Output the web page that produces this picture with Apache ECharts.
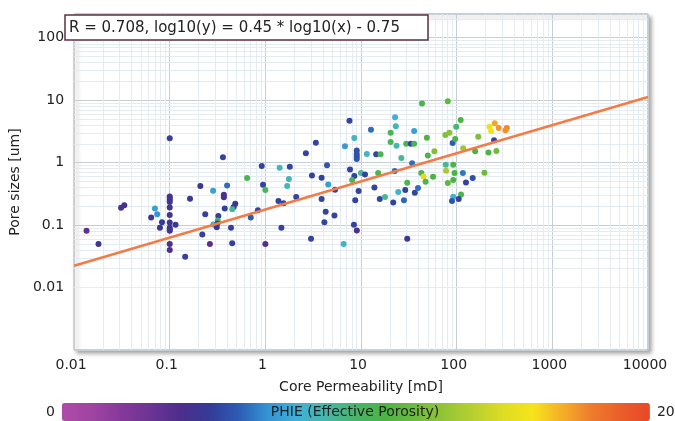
<!DOCTYPE html>
<html><head><meta charset="utf-8">
<script src="https://cdn.jsdelivr.net/npm/echarts@6/dist/echarts.min.js"></script>
<style>html,body{margin:0;padding:0;background:#fff}#c{width:675px;height:421px}</style>
</head><body><div id="c"></div>
<script>
// Core permeability [mD]
const permeability = [
  0.0135, 0.018, 0.031, 0.0335, 0.070, 0.074, 0.064, 0.083, 0.079,
  0.1, 0.1, 0.1, 0.1, 0.1, 0.1, 0.1, 0.1, 0.1, 0.1, 0.1, 0.1, 0.1,
  0.115, 0.163, 0.145, 0.36, 0.209, 0.284, 0.398, 0.368, 0.368, 0.484, 0.466, 0.451, 0.376,
  0.235, 0.322, 0.318, 0.286, 0.315, 0.31, 0.219, 0.437, 0.263, 0.45, 1.0,
  0.644, 0.916, 0.945, 1.0, 1.41, 1.80, 1.76, 1.69, 1.37, 1.55, 2.10, 0.835, 0.703, 1.47, 2.65,
  7.57, 22.7, 23.1, 12.7, 35.9, 20.4, 8.51, 20.4, 29.7, 33.2, 35.9, 3.37, 6.79, 23.5,
  9.02, 9.02, 9.02, 9.02, 11.5, 14.4, 16.0, 26.4, 34.2, 4.41, 3.07, 7.67, 3.87, 8.51, 9.98,
  11.0, 8.07, 15.1, 22.5, 4.54, 5.35, 13.8, 30.4, 9.42, 3.87, 8.7, 15.7, 17.8, 21.7, 24.5,
  29.0, 28.1, 36.5, 4.27, 5.27, 4.14, 8.43, 9.04, 3.0, 30.4, 6.58,
  43.4, 80.7, 110, 98.9, 76.2, 83.7, 90.7, 96.6, 48.8, 168, 220, 229, 250, 275, 334, 324, 246,
  49.9, 58.5, 117, 156, 215, 260, 76.9, 92, 77.4, 95, 116, 147, 125, 195, 92, 80.7,
  42.7, 45.1, 56.6, 47.3, 39.4, 111, 92, 89.3, 105
];
// Pore sizes [um]
const poreSize = [
  0.081, 0.050, 0.19, 0.207, 0.184, 0.149, 0.132, 0.111, 0.091,
  2.46, 0.288, 0.272, 0.252, 0.234, 0.192, 0.145, 0.110, 0.091, 0.085, 0.081, 0.050, 0.040,
  0.101, 0.265, 0.031, 1.22, 0.423, 0.356, 0.431, 0.307, 0.278, 0.22, 0.195, 0.18, 0.184,
  0.149, 0.140, 0.119, 0.102, 0.106, 0.092, 0.0706, 0.091, 0.050, 0.051, 0.050,
  0.566, 0.88, 0.443, 0.365, 0.826, 0.857, 0.545, 0.423, 0.243, 0.223, 0.282, 0.173, 0.132, 0.091, 1.42,
  4.69, 5.31, 3.82, 3.37, 3.21, 3.02, 2.48, 2.14, 2.01, 2.01, 2.01, 2.09, 1.83, 1.87,
  1.56, 1.38, 1.25, 1.14, 1.38, 1.36, 1.36, 1.19, 0.98, 0.91, 0.622, 0.776, 0.573, 0.61, 0.681,
  0.646, 0.526, 0.681, 0.733, 0.448, 0.369, 0.401, 0.476, 0.351, 0.262, 0.249, 0.262, 0.282, 0.231, 0.339,
  0.365, 0.249, 0.33, 0.163, 0.142, 0.111, 0.101, 0.0818, 0.0604, 0.0604, 0.050,
  8.87, 9.66, 4.81, 3.76, 2.77, 3.02, 2.07, 2.4, 2.51, 2.61, 3.76, 3.21, 4.26, 3.59, 3.59, 3.3, 2.29,
  1.30, 1.52, 1.70, 1.52, 1.45, 1.54, 0.923, 0.923, 0.739, 0.681, 0.681, 0.566, 0.482, 0.688, 0.526, 0.471,
  0.681, 0.601, 0.594, 0.494, 0.393, 0.31, 0.285, 0.243, 0.262
];
// PHIE (Effective Porosity)
const phie = [
  3.5, 4.6, 4.3, 4.3, 7.4, 7.0, 4.6, 5.0, 5.0,
  5.2, 4.5, 4.5, 4.5, 4.6, 4.5, 4.6, 4.5, 4.5, 4.6, 4.5, 4.0, 4.1,
  5.0, 5.0, 5.2, 5.3, 4.7, 7.4, 6.3, 4.2, 4.2, 5.0, 4.8, 9.2, 5.2,
  5.2, 5.2, 10.2, 8.5, 5.2, 5.0, 5.2, 5.2, 3.6, 5.2, 3.8,
  10.5, 5.3, 5.3, 10.3, 8.5, 5.3, 8.5, 8.5, 5.3, 5.3, 5.3, 5.3, 6.0, 5.3, 5.3,
  5.3, 8.0, 8.7, 6.3, 7.4, 10.5, 8.5, 10.5, 10.8, 5.3, 10.5, 5.3, 7.2, 8.7,
  5.7, 5.7, 5.7, 5.7, 8.5, 5.3, 10.5, 9.3, 6.3, 5.8, 5.3, 5.3, 5.3, 5.3, 9.3,
  5.3, 10.5, 10.8, 6.3, 7.3, 5.3, 5.3, 10.8, 5.3, 5.3, 5.3, 5.3, 9.3, 5.3, 8.3,
  5.3, 6.2, 5.3, 5.3, 5.3, 5.3, 5.3, 4.0, 5.3, 4.5, 8.3,
  11.0, 11.5, 11.0, 9.8, 12.5, 12.8, 6.0, 11.0, 11.0, 12.5, 15.6, 15.8, 17.2, 17.5, 17.8, 17.6, 5.3,
  10.8, 12.5, 13.2, 11.0, 11.0, 12.0, 9.3, 11.0, 13.5, 11.0, 6.5, 5.6, 5.3, 12.0, 11.0, 11.5,
  11.0, 15.0, 11.0, 10.8, 6.3, 10.8, 8.3, 5.8, 5.3
];
const xTickLabels = ['0.01', '0.1', '1', '10', '100', '1000', '10000'];
const yTickLabels = ['0.01', '0.1', '1', '10', '100'];
const fitR = 0.708, fitSlope = 0.45, fitIntercept = -0.75;
const phieMin = 0, phieMax = 20;

const FONT = 'DejaVu Sans';
const xMin = 0.01, xMax = 10000, yMin = 0.001, yMax = 240;

// minor log grid (2..9 per decade)
const minorLines = [];
for (let d = -2; d <= 3; d++) for (let m = 2; m <= 9; m++) minorLines.push({ xAxis: m * Math.pow(10, d) });
for (let d = -3; d <= 2; d++) for (let m = 2; m <= 9; m++) {
  const v = m * Math.pow(10, d);
  if (v < yMax) minorLines.push({ yAxis: v });
}

function fmt(list) {
  return function (v) {
    for (const s of list) if (Math.abs(Math.log10(v) - Math.log10(parseFloat(s))) < 1e-6) return s;
    return '';
  };
}

const fitLine = [xMin, xMax].map(x => [x, Math.pow(10, fitSlope * Math.log10(x) + fitIntercept)]);
const pts = permeability.map((p, i) => [p, poreSize[i], phie[i]]);

const chart = echarts.init(document.getElementById('c'), null, { renderer: 'canvas' });
chart.setOption({
  animation: false,
  backgroundColor: '#fff',
  textStyle: { fontFamily: FONT },
  grid: {
    show: true, left: 62, top: 14, width: 586, height: 336,
    backgroundColor: '#fff', borderColor: '#9ea7ae', borderWidth: 1,
    shadowColor: 'rgba(0,0,0,0.35)', shadowBlur: 4, shadowOffsetX: 3, shadowOffsetY: 3
  },
  xAxis: {
    type: 'log', logBase: 10, min: xMin, max: xMax,
    axisLine: { show: false }, axisTick: { show: false },
    splitLine: { show: true, lineStyle: { color: '#c6ced4', width: 1 } },
    axisLabel: { fontFamily: FONT, fontSize: 14, color: '#222', margin: 8, padding: [0, 6, 0, 0], formatter: fmt(xTickLabels) },
    name: 'Core Permeability [mD]', nameLocation: 'middle', nameGap: 30,
    nameTextStyle: { fontFamily: FONT, fontSize: 14, color: '#222' }
  },
  yAxis: {
    type: 'log', logBase: 10, min: yMin, max: yMax,
    axisLine: { show: false }, axisTick: { show: false },
    splitLine: { show: true, lineStyle: { color: '#c6ced4', width: 1 } },
    axisLabel: { fontFamily: FONT, fontSize: 14, color: '#222', margin: 10, formatter: fmt(yTickLabels) },
    name: 'Pore sizes [um]', nameLocation: 'middle', nameGap: 34,
    nameTextStyle: { fontFamily: FONT, fontSize: 14, color: '#222' }
  },
  visualMap: {
    type: 'continuous', seriesIndex: 0, dimension: 2,
    min: phieMin, max: phieMax, orient: 'horizontal',
    left: 46, top: 403, padding: 0,
    itemWidth: 18, itemHeight: 588, textGap: 7,
    calculable: false, hoverLink: false,
    text: [String(phieMax), String(phieMin)],
    textStyle: { fontFamily: FONT, fontSize: 14, color: '#222' },
    inRange: {
      color: ['#b04aa8', '#a044a2', '#86399a', '#6c3494', '#4e2e8c', '#353a96', '#2c5cb4',
              '#3494d4', '#40b0d8', '#46b8a8', '#48b468', '#4cb444', '#6cbc3c', '#94c436',
              '#b8d030', '#dedc24', '#f6e41a', '#f4b028', '#ee7c2c', '#ea5e2a', '#e84828']
    }
  },
  graphic: [
    { type: 'rect', zlevel: 2, z: 100, shape: { x: 65, y: 15, width: 363, height: 25 },
      style: { fill: '#fff', stroke: '#5a3040', lineWidth: 1.5 } },
    { type: 'text', zlevel: 2, z: 101, x: 69, y: 28,
      style: { text: 'R = ' + fitR + ', log10(y) = ' + fitSlope + ' * log10(x) - ' + Math.abs(fitIntercept),
               font: '15px "DejaVu Sans"', fill: '#222', textVerticalAlign: 'middle' } },
    { type: 'text', zlevel: 2, z: 101, x: 355, y: 412,
      style: { text: 'PHIE (Effective Porosity)', font: '14px "DejaVu Sans"', fill: '#222',
               textAlign: 'center', textVerticalAlign: 'middle' } }
  ],
  series: [
    { type: 'scatter', data: pts, symbolSize: 6, zlevel: 1, z: 3, itemStyle: { opacity: 1 } },
    { type: 'line', data: fitLine, symbol: 'none', zlevel: 1, z: 4, silent: true,
      lineStyle: { color: '#f47b45', width: 2.5 } },
    { type: 'line', data: [], zlevel: 0, z: 1, silent: true,
      markLine: { silent: true, symbol: ['none', 'none'], label: { show: false },
        lineStyle: { type: 'solid', color: '#e4ecf1', width: 1 }, data: minorLines } }
  ]
});
</script></body></html>
